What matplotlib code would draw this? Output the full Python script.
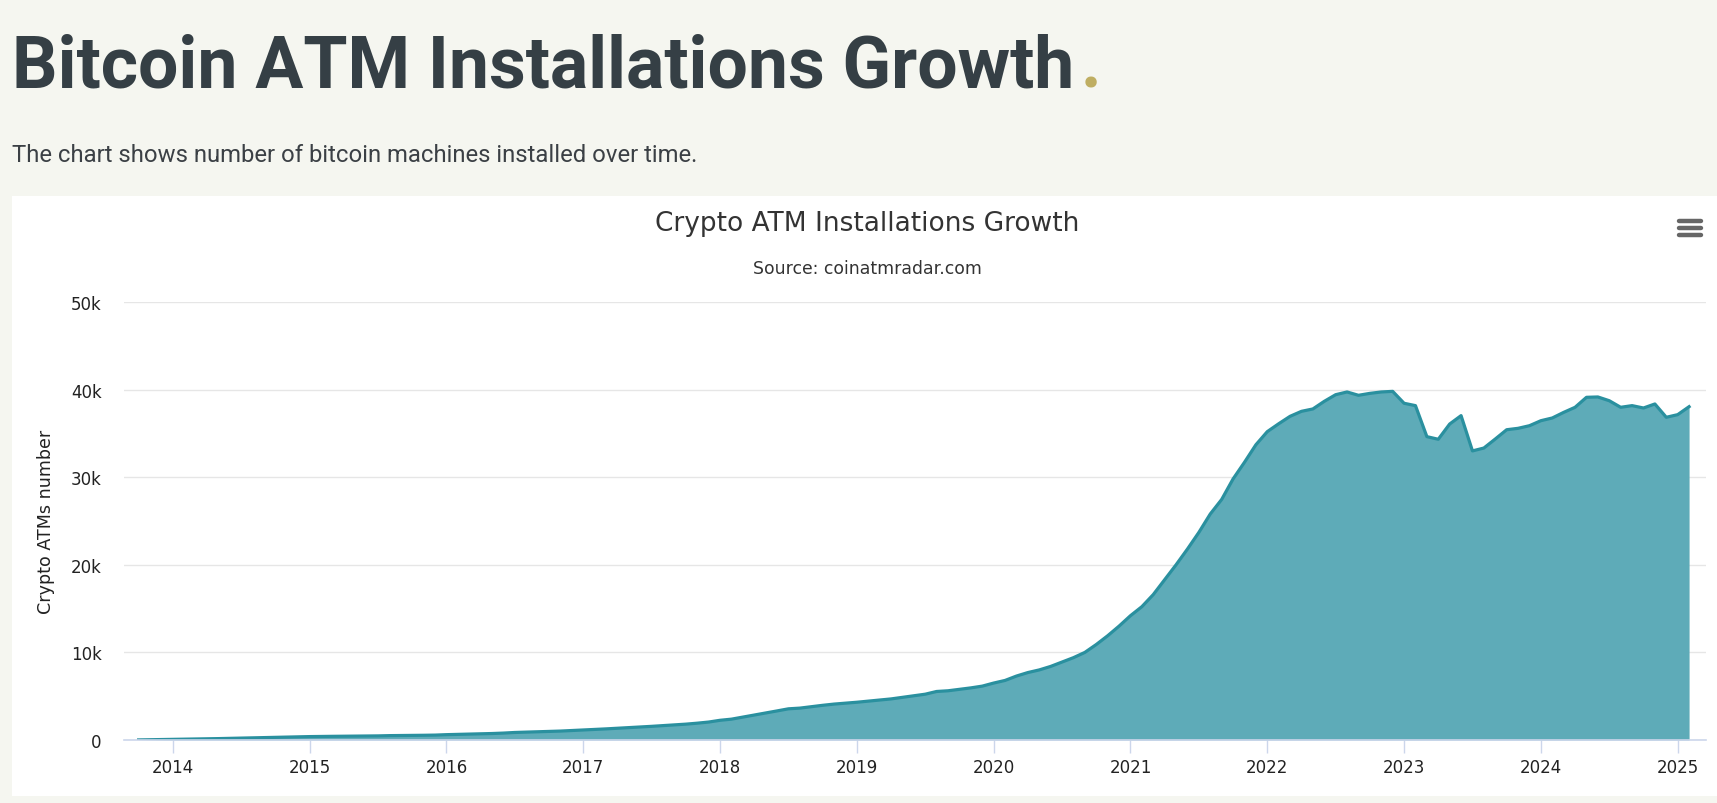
import matplotlib
matplotlib.use("Agg")
import matplotlib.pyplot as plt
from matplotlib.patches import Rectangle
from matplotlib.lines import Line2D
import numpy as np

# monthly counts, first month Oct 2013, last Feb 2025
start_year, start_month = 2013, 10
atm_counts = [
    10, 30, 50,                                                         # 2013
    80, 100, 120, 140, 160, 190, 220, 250, 280, 310, 340, 370,          # 2014
    390, 410, 420, 430, 440, 450, 470, 500, 510, 520, 540, 560,         # 2015
    610, 640, 660, 700, 740, 790, 860, 900, 940, 980, 1020, 1080,       # 2016
    1140, 1200, 1270, 1340, 1400, 1480, 1560, 1640, 1720, 1810, 1920, 2050,  # 2017
    2250, 2380, 2620, 2850, 3080, 3320, 3560, 3640, 3800, 3960, 4100, 4200,  # 2018
    4310, 4440, 4560, 4690, 4870, 5050, 5230, 5540, 5620, 5780, 5950, 6150,  # 2019
    6500, 6800, 7300, 7700, 8000, 8400, 8900, 9400, 10000, 10900, 11900, 13000,  # 2020
    14190, 15220, 16600, 18300, 20000, 21800, 23700, 25800, 27460, 29800, 31700, 33700,  # 2021
    35200, 36100, 36950, 37520, 37790, 38660, 39420, 39730, 39350, 39570, 39730, 39800,  # 2022
    38440, 38170, 34630, 34330, 36070, 37030, 33000, 33330, 34360, 35420, 35580, 35880,  # 2023
    36450, 36760, 37400, 37980, 39120, 39160, 38730, 37980, 38170, 37900, 38360, 36840,  # 2024
    37140, 38050,                                                       # 2025
]
year_ticks = list(range(2014, 2026))
y_ticks = [0, 10000, 20000, 30000, 40000, 50000]
y_tick_labels = ["0", "10k", "20k", "30k", "40k", "50k"]

# decimal year for each month
t = np.array([start_year + (start_month - 1 + i) / 12 for i in range(len(atm_counts))])
v = np.array(atm_counts)

W, H = 1717, 804
fig = plt.figure(figsize=(W / 100, H / 100), dpi=100)
fig.patch.set_facecolor("#f5f6f0")

# white chart panel
fig.patches.append(Rectangle((12 / W, 7 / H), 1 - 12 / W, 600 / H,
                             transform=fig.transFigure, facecolor="white",
                             edgecolor="none", zorder=-5))

# page heading
title = fig.text(12 / W, 1 - 88 / H, "Bitcoin ATM Installations Growth",
                 family="Roboto", weight="bold", fontsize=51.5, color="#353f45",
                 va="baseline", ha="left")
fig.canvas.draw()
bb = title.get_window_extent()
fig.text(bb.x1 / W + 6 / W, 1 - 88 / H, ".", family="Roboto", weight="bold",
         fontsize=51.5, color="#bfae62", va="baseline", ha="left")
fig.text(12 / W, 1 - 162 / H,
         "The chart shows number of bitcoin machines installed over time.",
         family="Roboto", fontsize=17.2, color="#3b4045", va="baseline", ha="left")

# chart title + source
fig.text(867 / W, 1 - 224 / H, "Crypto ATM Installations Growth",
         fontsize=19, color="#333333", ha="center", va="center")
fig.text(867 / W, 1 - 269 / H, "Source: coinatmradar.com",
         fontsize=12.4, color="#333333", ha="center", va="center")

# menu icon
for yy in (222, 229, 236):
    fig.lines.append(Line2D([1679 / W, 1701 / W], [1 - yy / H, 1 - yy / H],
                            transform=fig.transFigure, color="#666666",
                            linewidth=3.2, solid_capstyle="round"))

# y axis title
fig.text(46 / W, 1 - 522 / H, "Crypto ATMs number", rotation=90,
         fontsize=12.6, color="#222222", ha="center", va="center")

ax = fig.add_axes([124 / W, 1 - 741 / H, (1706 - 124) / W, (741 - 303) / H])
ax.set_zorder(3)
ax.set_facecolor("none")
ax.fill_between(t, 0, v, color="#5eabb8", linewidth=0, zorder=2)
ax.plot(t, v, color="#2a909f", linewidth=2.3, zorder=3)

ax.set_xlim(2013.643, 2025.207)
ax.set_ylim(0, 50000)
ax.set_yticks(y_ticks)
ax.set_yticklabels(y_tick_labels)
ax.set_xticks(year_ticks)
ax.set_xticklabels([str(y) for y in year_ticks])
ax.grid(axis="y", color="#e6e6e6", linewidth=1)
ax.set_axisbelow(True)
for s in ("top", "right", "left"):
    ax.spines[s].set_visible(False)
ax.spines["bottom"].set_color("#ccd6eb")
ax.spines["bottom"].set_linewidth(1.2)
ax.spines["bottom"].set_zorder(4)
ax.tick_params(axis="y", length=0, pad=16, labelsize=12, labelcolor="#222222")
ax.tick_params(axis="x", length=9, width=1, color="#ccd6eb", pad=4,
               labelsize=12, labelcolor="#222222")

fig.savefig("out.png", dpi=100, facecolor=fig.get_facecolor())
